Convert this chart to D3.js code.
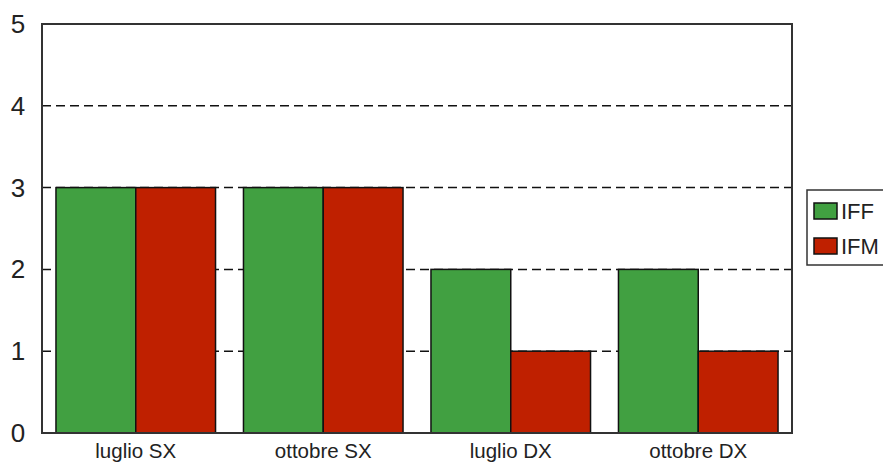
<!DOCTYPE html>
<html><head><meta charset="utf-8">
<script src="https://cdn.jsdelivr.net/npm/d3@7"></script>
<style>body{margin:0;background:#fff}svg{display:block}</style>
</head><body>
<script>
const categories = ["luglio SX", "ottobre SX", "luglio DX", "ottobre DX"];
const seriesNames = ["IFF", "IFM"];
const iffValues = [3, 3, 2, 2];
const ifmValues = [3, 3, 1, 1];
const yTicks = [0, 1, 2, 3, 4, 5];
const colors = ["#41a041", "#bf2000"];

const W = 883, H = 469;
const m = {left: 42, top: 24, right: 91, bottom: 36};
const svg = d3.select("body").append("svg").attr("width", W).attr("height", H);
const x0 = d3.scaleBand().domain(categories).range([m.left, W - m.right]).paddingInner(0.149).paddingOuter(0.0745);
const x1 = d3.scaleBand().domain(seriesNames).range([0, x0.bandwidth()]);
const y = d3.scaleLinear().domain([0, 5]).range([H - m.bottom, m.top]);
const seriesVals = [iffValues, ifmValues];

// grid
svg.append("g").selectAll("line").data(yTicks.filter(t => t > 0 && t < 5)).join("line")
  .attr("x1", m.left).attr("x2", W - m.right)
  .attr("y1", d => y(d)).attr("y2", d => y(d))
  .attr("stroke", "#111").attr("stroke-width", 1.5).attr("stroke-dasharray", "9,5");

// bars
const g = svg.append("g").selectAll("g").data(categories).join("g")
  .attr("transform", d => `translate(${x0(d)},0)`);
g.selectAll("rect").data((c, i) => seriesNames.map((s, j) => ({s, j, v: seriesVals[j][i]}))).join("rect")
  .attr("x", d => x1(d.s)).attr("width", x1.bandwidth())
  .attr("y", d => y(d.v)).attr("height", d => y(0) - y(d.v))
  .attr("fill", d => colors[d.j]).attr("stroke", "#111").attr("stroke-width", 1.5);

// frame
svg.append("rect").attr("x", m.left).attr("y", m.top)
  .attr("width", W - m.right - m.left).attr("height", H - m.bottom - m.top)
  .attr("fill", "none").attr("stroke", "#333").attr("stroke-width", 2);

// y axis labels
const yAxis = d3.axisLeft(y).tickValues(yTicks).tickSize(0).tickPadding(0).tickFormat(d3.format("d"));
const ya = svg.append("g").attr("transform", `translate(${m.left - 24},0)`).call(yAxis);
ya.select(".domain").remove();
ya.selectAll("text").attr("font-family", "Liberation Sans, Arial, sans-serif").attr("font-size", 26)
  .attr("fill", "#222").attr("text-anchor", "middle").attr("dy", "0.33em");

// x axis labels
const xAxis = d3.axisBottom(x0).tickSize(0).tickPadding(0);
const xa = svg.append("g").attr("transform", `translate(0,${H - m.bottom + 10})`).call(xAxis);
xa.select(".domain").remove();
xa.selectAll("text").attr("font-family", "Liberation Sans, Arial, sans-serif").attr("font-size", 20.5)
  .attr("fill", "#222").attr("dy", "0.72em");

// legend
const lg = svg.append("g");
lg.append("rect").attr("x", 807).attr("y", 190).attr("width", 100).attr("height", 75)
  .attr("fill", "#fff").attr("stroke", "#333").attr("stroke-width", 1.5);
const li = lg.selectAll("g.item").data(seriesNames).join("g").attr("class", "item")
  .attr("transform", (d, i) => `translate(814,${203 + i * 35})`);
li.append("rect").attr("width", 23).attr("height", 16)
  .attr("fill", (d, i) => colors[i]).attr("stroke", "#111").attr("stroke-width", 1.5);
li.append("text").attr("x", 27).attr("y", 8).attr("dy", "0.36em")
  .attr("font-family", "Liberation Sans, Arial, sans-serif").attr("font-size", 22).attr("fill", "#222")
  .text(d => d);
</script>
</body></html>
